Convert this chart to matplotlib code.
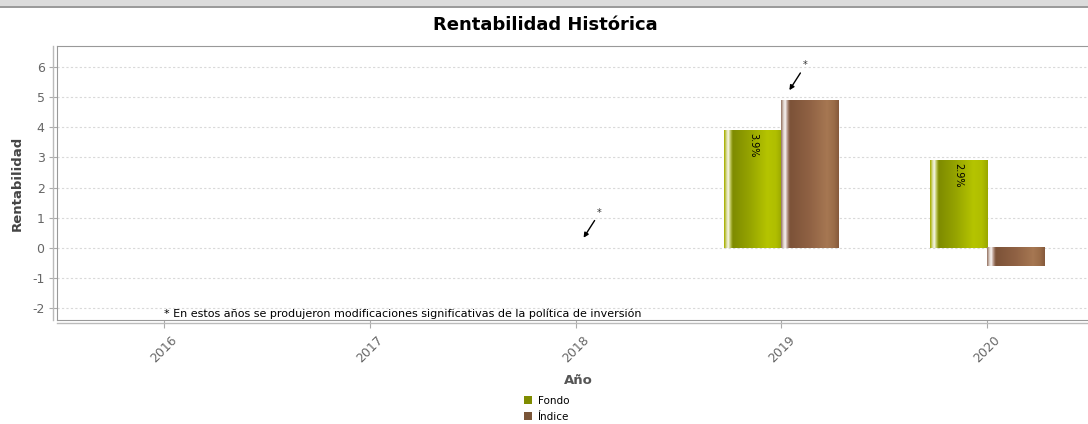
import matplotlib
matplotlib.use("Agg")
import matplotlib.pyplot as plt
import matplotlib.transforms as mtransforms
from matplotlib.colors import to_rgb
from matplotlib.patches import Patch, Rectangle
from matplotlib.lines import Line2D
import numpy as np

plt.rcParams["axes.unicode_minus"] = False

years = ["2016", "2017", "2018", "2019", "2020"]
fondo = [np.nan, np.nan, np.nan, 3.9, 2.9]
indice = [np.nan, np.nan, np.nan, 4.9, -0.6]
fondo_labels = ["", "", "", "3.9%", "2.9%"]
marked_years = ["2018", "2019"]
note = "* En estos años se produjeron modificaciones significativas de la política de inversión"

fondo_stops = [(0.00, "#a8b000"), (0.04, "#d6d99a"), (0.07, "#fafaf0"), (0.11, "#b8c050"),
               (0.15, "#7e8b00"), (0.45, "#96a400"), (0.75, "#b5c400"), (0.90, "#b0be00"),
               (1.00, "#9aa800")]
indice_stops = [(0.00, "#9a7a6a"), (0.04, "#ddd0c8"), (0.07, "#faf6f6"), (0.11, "#b09080"),
                (0.15, "#7c5238"), (0.50, "#906244"), (0.80, "#a67752"), (0.92, "#9a6c48"),
                (1.00, "#865a3c")]


def gradient(stops, n=96):
    pos = [p for p, _ in stops]
    cols = np.array([to_rgb(c) for _, c in stops])
    t = np.linspace(0, 1, n)
    return np.stack([np.interp(t, pos, cols[:, k]) for k in range(3)], axis=1)


fig = plt.figure(figsize=(10.88, 4.24), dpi=100)
ax = fig.add_axes([57 / 1088, 104 / 424, 1 - 57 / 1088, 274 / 424])

x = np.arange(len(years))
w = 0.277
b1 = ax.bar(x - w / 2, fondo, w, color="#8a9600", zorder=2)
b2 = ax.bar(x + w / 2, indice, w, color="#8a5e40", zorder=2)

# cylinder-like shading on each bar
for bars, stops in ((b1, fondo_stops), (b2, indice_stops)):
    g = gradient(stops)[np.newaxis, :, :]
    for r in bars:
        h = r.get_height()
        if not np.isfinite(h):
            continue
        x0 = r.get_x()
        y0, y1 = sorted([r.get_y(), r.get_y() + h])
        ax.imshow(g, extent=[x0, x0 + r.get_width(), y0, y1], aspect="auto",
                  interpolation="bilinear", zorder=3)

for r, lab in zip(b1, fondo_labels):
    if lab:
        ax.annotate(lab, xy=(r.get_x() + r.get_width() / 2, r.get_height()),
                    xytext=(0, -3), textcoords="offset pixels", rotation=270,
                    ha="center", va="top", fontsize=7, zorder=4)

# arrows for years with policy changes
for yr in marked_years:
    i = years.index(yr)
    top = np.nanmax([0, fondo[i], indice[i]])
    tr = ax.transData + mtransforms.ScaledTranslation(8 / 100, 10 / 100, fig.dpi_scale_trans)
    ax.annotate("*", xy=(i, top), xycoords=tr, xytext=(16, 20), textcoords="offset pixels",
                fontsize=7, ha="center", va="bottom", color="#333333",
                arrowprops=dict(arrowstyle="-|>", color="black", lw=1, mutation_scale=7,
                                shrinkA=0, shrinkB=0), zorder=5)

ax.set_xlim(-0.52, 4.49)
ax.set_ylim(-2.4, 6.7)
ax.set_yticks(range(-2, 7))
ax.set_xticks(x)
ax.set_xticklabels(years, rotation=45, ha="center", fontsize=9, color="#666666")
for lbl in ax.get_xticklabels():
    lbl.set_transform(lbl.get_transform() + mtransforms.ScaledTranslation(-5 / 100, 0, fig.dpi_scale_trans))
ax.tick_params(axis="y", labelsize=9, labelcolor="#666666", color="#aaaaaa", length=6, pad=3)
ax.tick_params(axis="x", color="#aaaaaa", length=6, pad=4)
ax.yaxis.grid(True, color="#d9d9d9", linestyle=(0, (2, 2)), linewidth=0.8)
ax.set_axisbelow(True)
for s in ("left", "top", "bottom"):
    ax.spines[s].set_color("#999999")
ax.spines["right"].set_visible(False)

# outer axis lines
ax.add_line(Line2D([0, 0], [0, 1], transform=ax.transAxes + mtransforms.ScaledTranslation(-4 / 100, 0, fig.dpi_scale_trans),
                   color="#bbbbbb", lw=1, clip_on=False))
ax.add_line(Line2D([0, 1], [0, 0], transform=ax.transAxes + mtransforms.ScaledTranslation(0, -3 / 100, fig.dpi_scale_trans),
                   color="#bbbbbb", lw=1, clip_on=False))

ax.text(0, -2.36, note, fontsize=8.0, ha="left", va="bottom", color="black")

fig.text(545 / 1088, 1 - 25 / 424, "Rentabilidad Histórica", fontsize=13, fontweight="bold",
         ha="center", va="center")
fig.text(17 / 1088, 1 - 183 / 424, "Rentabilidad", fontsize=9.5, fontweight="bold", color="#444444",
         rotation=90, ha="center", va="center")
fig.text(578 / 1088, 1 - 380 / 424, "Año", fontsize=9.5, fontweight="bold", color="#555555",
         ha="center", va="center")

fig.add_artist(Rectangle((0, 1 - 6 / 424), 1, 6 / 424, transform=fig.transFigure,
                         facecolor="#dcdcdc", edgecolor="none"))
fig.add_artist(Line2D([0, 1], [1 - 6.5 / 424] * 2, transform=fig.transFigure, color="#888888", lw=1.2))

handles = [Patch(facecolor="#7f8c00"), Patch(facecolor="#7a5538")]
fig.legend(handles, ["Fondo", "Índice"], loc="upper left", bbox_to_anchor=(524 / 1088, 1 - 396 / 424),
           frameon=False, fontsize=7.5, handlelength=0.8, handleheight=0.8, handletextpad=0.5,
           labelspacing=0.55, borderpad=0, borderaxespad=0)

fig.savefig("out.png", dpi=100)
